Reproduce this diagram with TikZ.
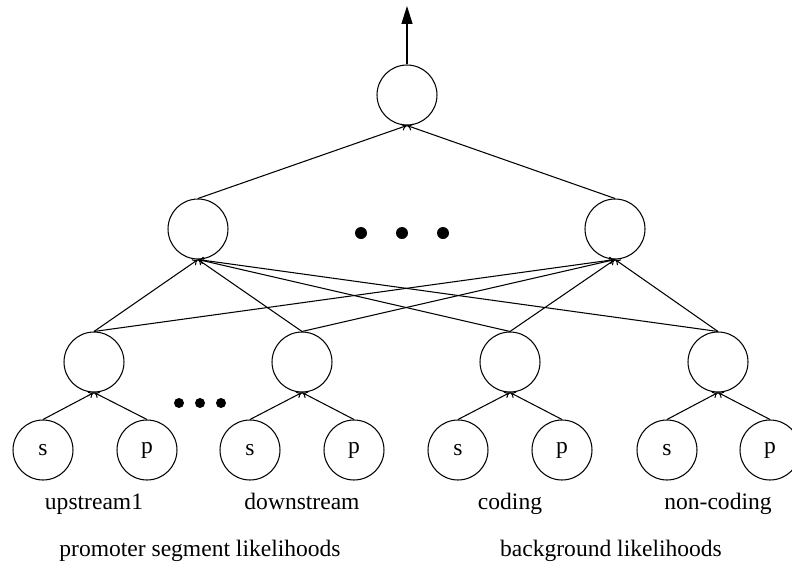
\documentclass[tikz,border=0pt]{standalone}
\usepackage{fontspec}
\setmainfont{Liberation Serif}
\usetikzlibrary{arrows.meta}

\begin{document}
\begin{tikzpicture}[
    x=0.02cm, y=-0.02cm,
    every node/.style={font=\fontsize{13.4}{16}\selectfont},
    unit/.style={draw, circle, line width=0.6pt, minimum size=1.2cm, inner sep=0pt},
    link/.style={line width=0.6pt, -{To[length=1.1mm,width=1.4mm]}},
    output/.style={line width=0.8pt, -{Triangle[length=3.6mm,width=2.2mm]}},
    caption/.style={anchor=base, inner sep=0pt},
    ]
    \useasboundingbox (0,0) rectangle (792,565);

    % Top unit and its output
    \node[unit] (top) at (407,95) {};
    \coordinate (out) at (407,6);
    \draw[output] (top.north) -- (out);

    % Middle layer
    \node[unit] (midL) at (198,229) {};
    \node[unit] (midR) at (615,229) {};
    \fill (361,233) circle (6) (402,233) circle (6) (443,233) circle (6);

    \draw[link] (midL.north) -- (top.south);
    \draw[link] (midR.north) -- (top.south);

    % Segment units
    \node[unit] (up)     at (94,362)  {};
    \node[unit] (down)   at (302,362) {};
    \node[unit] (cod)    at (510,362) {};
    \node[unit] (noncod) at (718,362) {};
    \fill (179,403) circle (5) (200,403) circle (5) (221,403) circle (5);

    \draw[link] (up.north) -- (midL.south);
    \draw[link] (up.north) -- (midR.south);
    \draw[link] (down.north) -- (midL.south);
    \draw[link] (down.north) -- (midR.south);
    \draw[link] (cod.north) -- (midL.south);
    \draw[link] (cod.north) -- (midR.south);
    \draw[link] (noncod.north) -- (midL.south);
    \draw[link] (noncod.north) -- (midR.south);

    % s and p inputs
    \node[unit] (upS)     at (43,450)  {s};
    \node[unit] (upP)     at (147,450) {p};
    \node[unit] (downS)   at (250,450) {s};
    \node[unit] (downP)   at (354,450) {p};
    \node[unit] (codS)    at (458,450) {s};
    \node[unit] (codP)    at (562,450) {p};
    \node[unit] (noncodS) at (667,450) {s};
    \node[unit] (noncodP) at (770,450) {p};

    \draw[link] (upS.north) -- (up.south);
    \draw[link] (upP.north) -- (up.south);
    \draw[link] (downS.north) -- (down.south);
    \draw[link] (downP.north) -- (down.south);
    \draw[link] (codS.north) -- (cod.south);
    \draw[link] (codP.north) -- (cod.south);
    \draw[link] (noncodS.north) -- (noncod.south);
    \draw[link] (noncodP.north) -- (noncod.south);

    % Labels
    \node[caption] (upLab)     at (94,509)  {upstream1};
    \node[caption] (downLab)   at (302,509) {downstream};
    \node[caption] (codLab)    at (510,509) {coding};
    \node[caption] (noncodLab) at (718,509) {non-coding};
    \node[caption] (promLab)   at (200,556) {promoter segment likelihoods};
    \node[caption] (bgLab)     at (611,556) {background likelihoods};
\end{tikzpicture}
\end{document}
